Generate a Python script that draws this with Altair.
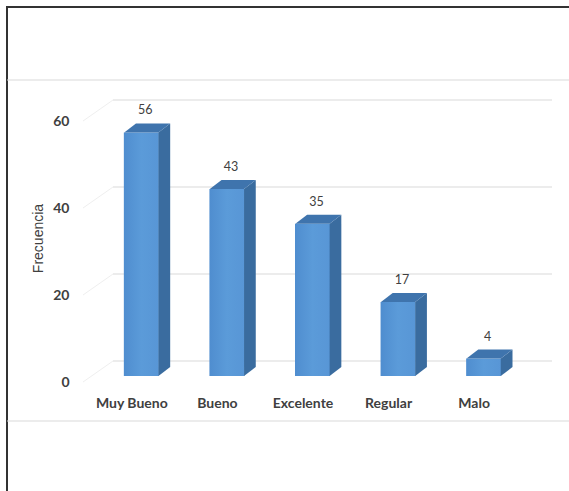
import json
import altair as alt
import pandas as pd

categories = ["Muy Bueno", "Bueno", "Excelente", "Regular", "Malo"]
values = [56, 43, 35, 17, 4]
grid_values = [0, 20, 40, 60]

# geometry of the pseudo-3D bars, in data units
HALF = 0.2      # half bar width (x units)
DX = 0.137      # depth shift in x units
DY = 2.07       # depth shift in y units

idx = list(range(len(categories)))
bars = pd.DataFrame({"i": idx, "cat": categories, "v": values})

side_rows, top_rows = [], []
for i, c, v in zip(idx, categories, values):
    side_rows.append({"cat": c, "x": i + HALF, "y": v, "y2": 0})
    side_rows.append({"cat": c, "x": i + HALF + DX, "y": v + DY, "y2": DY})
    top_rows.append({"cat": c, "y": v, "x": i - HALF, "x2": i + HALF})
    top_rows.append({"cat": c, "y": v + DY, "x": i - HALF + DX, "x2": i + HALF + DX})
side = pd.DataFrame(side_rows)
top = pd.DataFrame(top_rows)
grid = pd.DataFrame({"g": grid_values})
one = pd.DataFrame({"k": [0]})

xscale = alt.Scale(domain=[-0.6, 4.6], nice=False, zero=False)
yscale = alt.Scale(domain=[0, 60], nice=False)

label_expr = json.dumps(categories) + "[datum.value]"

x_axis = alt.Axis(values=idx, labelExpr=label_expr, ticks=False, domain=False,
                  grid=False, labelPadding=20, labelOffset=-10,
                  labelFont="Lato", labelFontWeight="bold", labelFontSize=14,
                  labelColor="#404040", title=None)
y_axis = alt.Axis(values=grid_values, ticks=False, domain=False, grid=False,
                  labelPadding=16, labelOffset=6, labelFont="Lato",
                  labelFontWeight="bold", labelFontSize=14, labelColor="#404040",
                  title="Frecuencia", titleFont="Liberation Sans",
                  titleFontWeight="normal", titleFontSize=14, titleColor="#404040",
                  titleAngle=270, titleAlign="center", titleBaseline="middle",
                  titleX=-47, titleY=123)

# decoration: outer frame and separating lines
frame_top = alt.Chart(one).mark_rule(color="#333333", strokeWidth=2).encode(
    x=alt.value(-79), x2=alt.value(484), y=alt.value(-108))
frame_left = alt.Chart(one).mark_rule(color="#333333", strokeWidth=2).encode(
    x=alt.value(-78), y=alt.value(-109), y2=alt.value(376))
line_top = alt.Chart(one).mark_rule(color="#d9d9d9", strokeWidth=1).encode(
    x=alt.value(-78), x2=alt.value(484), y=alt.value(-35))
line_bottom = alt.Chart(one).mark_rule(color="#d9d9d9", strokeWidth=1).encode(
    x=alt.value(-78), x2=alt.value(484), y=alt.value(306))

back_grid = alt.Chart(grid).mark_rule(color="#d9d9d9", strokeWidth=1, yOffset=-15).encode(
    x=alt.value(28), x2=alt.value(467),
    y=alt.Y("g:Q", scale=yscale, axis=y_axis))
side_grid = alt.Chart(grid).mark_rule(color="#efefef", strokeWidth=1,
                                      yOffset=6, y2Offset=-15).encode(
    x=alt.value(-2), x2=alt.value(28),
    y=alt.Y("g:Q", scale=yscale), y2="g:Q")

front_fill = alt.Gradient(
    gradient="linear", x1=0, y1=0, x2=1, y2=0,
    stops=[alt.GradientStop(offset=0, color="#4f8dcf"),
           alt.GradientStop(offset=0.5, color="#5b9bd9"),
           alt.GradientStop(offset=1, color="#5896d6")])

front = alt.Chart(bars).mark_bar(size=35, color=front_fill).encode(
    x=alt.X("i:Q", scale=xscale, axis=x_axis),
    y=alt.Y("v:Q", scale=yscale), y2=alt.datum(0))

side_face = alt.Chart(side).mark_area(color="#3a6c9f", orient="vertical").encode(
    x=alt.X("x:Q", scale=xscale), y=alt.Y("y:Q", scale=yscale), y2="y2:Q",
    detail="cat:N")

top_face = alt.Chart(top).mark_area(color="#3f74ad", orient="horizontal").encode(
    y=alt.Y("y:Q", scale=yscale), x=alt.X("x:Q", scale=xscale), x2="x2:Q",
    detail="cat:N")

value_labels = alt.Chart(bars).mark_text(
    font="Lato", fontSize=12.5, color="#404040", dx=4, dy=-22, baseline="middle"
).encode(x=alt.X("i:Q", scale=xscale), y=alt.Y("v:Q", scale=yscale),
         text="v:Q")

chart = alt.layer(
    frame_top, frame_left, line_top, line_bottom,
    side_grid, back_grid, front, side_face, top_face, value_labels
).properties(
    width=455, height=261,
    autosize=alt.AutoSizeParams(type="none"),
    padding={"left": 85, "top": 115, "right": 29, "bottom": 115},
    background="white",
).configure_view(stroke=None)

chart.save("out.html", embed_options={"renderer": "svg", "actions": False})
